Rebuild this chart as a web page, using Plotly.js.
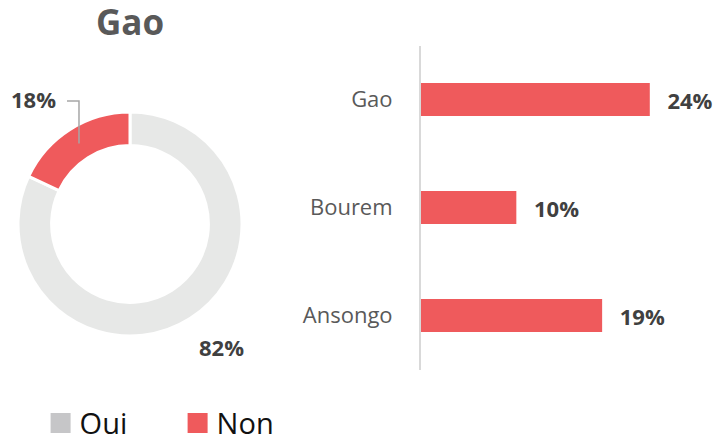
<!DOCTYPE html>
<html>
<head>
<meta charset="utf-8">
<script src="https://cdn.plot.ly/plotly-3.0.1.min.js"></script>
<style>html,body{margin:0;padding:0;background:#fff;}#chart{width:720px;height:439px;}</style>
</head>
<body>
<div id="chart"></div>
<script>
const chartTitle = 'Gao';
const donutLabels = ['Oui', 'Non'];
const donutValues = [82, 18];
const donutColors = ['#E7E8E7', '#EF5A5C'];
const legendColors = ['#C6C6C8', '#EF5A5C'];
const barCategories = ['Gao', 'Bourem', 'Ansongo'];
const barValues = [24, 10, 19];
const barColor = '#EF5A5C';

const W = 720, H = 439;
const FONT = '"Open Sans", "Noto Sans", sans-serif';
// donut geometry (pixels)
const cx = 130, cy = 224, R = 112, HOLE = 0.7;

const pie = {
  type: 'pie',
  labels: donutLabels,
  values: donutValues,
  hole: HOLE,
  sort: false,
  direction: 'clockwise',
  rotation: 0,
  textinfo: 'none',
  hoverinfo: 'label+percent',
  marker: {colors: donutColors, line: {color: '#ffffff', width: 3}},
  domain: {x: [(cx - R) / W, (cx + R) / W], y: [1 - (cy + R) / H, 1 - (cy - R) / H]},
  showlegend: true
};

const bar = {
  type: 'bar',
  orientation: 'h',
  y: barCategories,
  x: barValues,
  text: barValues.map(v => '\u2002\u2009' + v + '%'),
  textposition: 'outside',
  cliponaxis: false,
  textfont: {family: FONT, size: 22, color: '#404040', weight: 700},
  marker: {color: barColor},
  width: 0.306,
  showlegend: false,
  hoverinfo: 'x+y'
};

// donut percentage labels computed from the values
const annotations = [];
const shapes = [];
const total = donutValues.reduce((a, b) => a + b, 0);
let cum = 0;
donutValues.forEach((v, i) => {
  const frac = v / total;
  const mid = (cum + frac / 2) * 2 * Math.PI;
  cum += frac;
  const sx = Math.sin(mid), sy = -Math.cos(mid);
  const txt = Math.round(frac * 100) + '%';
  const font = {family: FONT, size: 22, color: '#404040', weight: 700};
  if (frac < 0.3) {
    const rMid = R * (1 + HOLE) / 2;
    const x0 = cx + sx * rMid, y0 = cy + sy * rMid;
    const y1 = cy + sy * R * 1.3;
    const x1 = x0 + Math.sign(sx) * 12;
    shapes.push({type: 'path', xref: 'paper', yref: 'paper',
      path: `M ${x0 / W} ${1 - y0 / H} L ${x0 / W} ${1 - y1 / H} L ${x1 / W} ${1 - y1 / H}`,
      line: {color: '#A6A6A6', width: 1.5}});
    annotations.push({xref: 'paper', yref: 'paper', x: (x1 + Math.sign(sx) * 9) / W, y: 1 - (y1 - 2) / H,
      xanchor: sx < 0 ? 'right' : 'left', yanchor: 'middle', showarrow: false, text: txt, font: font});
  } else {
    const px = cx + sx * R * 1.12, py = cy + sy * R * 1.12;
    annotations.push({xref: 'paper', yref: 'paper', x: px / W, y: 1 - py / H,
      xanchor: sx > 0 ? 'left' : 'right', yanchor: sy > 0 ? 'top' : 'bottom', showarrow: false, text: txt, font: font});
  }
});

const layout = {
  width: W, height: H, autosize: false,
  margin: {l: 0, r: 0, t: 0, b: 0, autoexpand: false},
  paper_bgcolor: '#ffffff', plot_bgcolor: '#ffffff',
  font: {family: FONT, color: '#595959'},
  title: {text: chartTitle, x: cx / W, xanchor: 'center', y: 0.976, yanchor: 'top', yref: 'container',
    font: {family: FONT, size: 35, color: '#595959', weight: 700}},
  xaxis: {domain: [421 / W, 707 / W], range: [0, 30], visible: false, fixedrange: true},
  yaxis: {domain: [1 - 369.5 / H, 1 - 45.5 / H], autorange: 'reversed', showline: true, linecolor: '#D9D9D9', linewidth: 2,
    ticks: 'outside', ticklen: 22, tickcolor: 'rgba(0,0,0,0)', showgrid: false, zeroline: false,
    tickfont: {family: FONT, size: 22, color: '#595959'}, fixedrange: true},
  legend: {orientation: 'h', x: 0.055, xanchor: 'left', y: -0.022, yanchor: 'bottom',
    font: {family: FONT, size: 29, color: '#111111'}, entrywidth: 92, entrywidthmode: 'pixels'},
  annotations: annotations,
  shapes: shapes,
  showlegend: true
};

Plotly.newPlot('chart', [pie, bar], layout, {displayModeBar: false, staticPlot: true}).then(() => {
  document.querySelectorAll('#chart .legend .traces').forEach((g, i) => {
    const p = g.querySelector('.legendpoints path');
    if (p) {
      p.setAttribute('d', 'M31,10H11V-10H31Z');
      p.removeAttribute('transform');
      p.style.fill = legendColors[i];
      p.style.stroke = 'none';
      p.style.strokeWidth = '0';
    }
  });
});
</script>
</body>
</html>
